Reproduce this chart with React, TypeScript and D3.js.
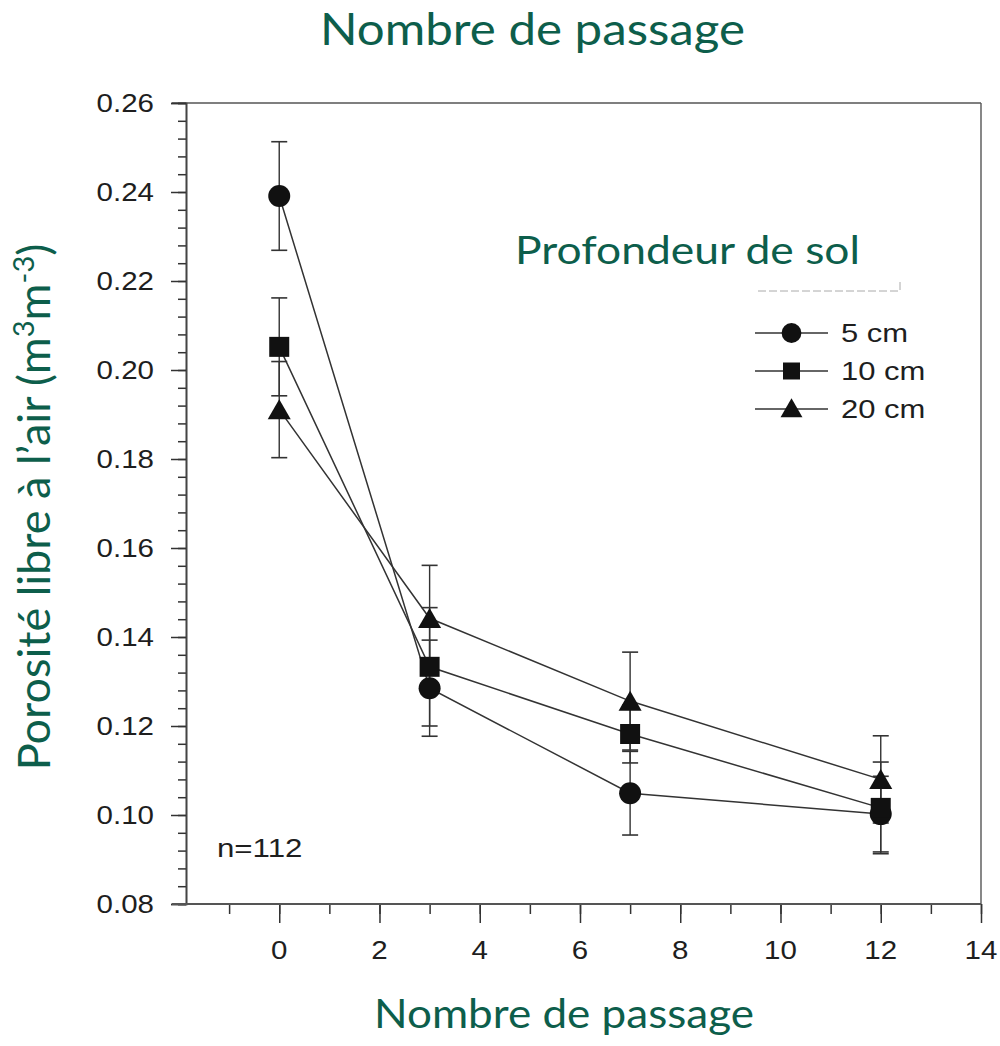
import React, { useEffect, useRef } from 'react';
import * as d3 from 'd3';

// data
const passes = [0, 3, 7, 12];
const depth5 = [0.2391, 0.1285, 0.1049, 0.1002];
const depth5Err = [0.0122, 0.0108, 0.0094, 0.0085];
const depth10 = [0.2052, 0.1333, 0.1182, 0.1016];
const depth10Err = [0.011, 0.0133, 0.0065, 0.0103];
const depth20 = [0.1911, 0.1442, 0.1256, 0.108];
const depth20Err = [0.0108, 0.0119, 0.011, 0.0098];
const seriesLabels = ['5 cm', '10 cm', '20 cm'];
const yTickLabels = ['0.08', '0.10', '0.12', '0.14', '0.16', '0.18', '0.20', '0.22', '0.24', '0.26'];
const xTickLabels = ['0', '2', '4', '6', '8', '10', '12', '14'];

const WIDTH = 1000;
const HEIGHT = 1046;
const GREEN = '#0d5e4b';
const INK = '#1e1e1e';
const TICK_FONT = '"Liberation Sans", Arial, sans-serif';
const TITLE_FONT = 'Lato, "Open Sans", sans-serif';

type Marker = 'circle' | 'square' | 'triangle';

const App: React.FC = () => {
  const svgRef = useRef<SVGSVGElement>(null);

  useEffect(() => {
    const svg = d3.select(svgRef.current);
    svg.selectAll('*').remove();

    const x = d3.scaleLinear().domain([-1.86, 14]).range([186, 981]);
    const y = d3.scaleLinear().domain([0.08, 0.26]).range([904, 103]);

    const g = svg.append('g');

    // frame: top and right borders
    g.append('line').attr('x1', 172).attr('x2', x(14)).attr('y1', y(0.26)).attr('y2', y(0.26))
      .attr('stroke', '#555').attr('stroke-width', 1.6);
    g.append('line').attr('x1', x(14)).attr('x2', x(14)).attr('y1', y(0.26)).attr('y2', y(0.08))
      .attr('stroke', '#555').attr('stroke-width', 1.4);

    // y axis: minor + major ticks
    const yMinor = d3.axisLeft(y)
      .tickValues(d3.range(0, 46).map(i => 0.08 + i * 0.004))
      .tickSize(8).tickFormat(() => '');
    const yMajor = d3.axisLeft(y)
      .tickValues(yTickLabels.map(Number))
      .tickSize(15).tickFormat(() => '');
    [yMinor, yMajor].forEach(ax => {
      const a = g.append('g').attr('transform', `translate(${x(-1.86)},0)`).call(ax);
      a.select('.domain').attr('stroke', '#444').attr('stroke-width', 1.6);
      a.selectAll('.tick line').attr('stroke', '#333').attr('stroke-width', 1.5);
    });

    // x axis: minor + major ticks
    const xMinor = d3.axisBottom(x).tickValues(d3.range(-1, 15)).tickSize(10).tickFormat(() => '');
    const xMajor = d3.axisBottom(x).tickValues(xTickLabels.map(Number)).tickSize(19).tickFormat(() => '');
    [xMinor, xMajor].forEach(ax => {
      const a = g.append('g').attr('transform', `translate(0,${y(0.08)})`).call(ax);
      a.select('.domain').remove();
      a.selectAll('.tick line').attr('stroke', '#333').attr('stroke-width', 1.5);
    });
    g.append('line').attr('x1', 172).attr('x2', x(14)).attr('y1', y(0.08)).attr('y2', y(0.08))
      .attr('stroke', '#555').attr('stroke-width', 2);

    // tick labels (the scanned figure is stretched horizontally)
    yTickLabels.forEach(t => {
      g.append('text')
        .attr('transform', `translate(154,${y(+t) + 9}) scale(1.18,1)`)
        .attr('text-anchor', 'end')
        .attr('font-family', TICK_FONT).attr('font-size', 25).attr('fill', INK)
        .text(t);
    });
    xTickLabels.forEach(t => {
      g.append('text')
        .attr('transform', `translate(${x(+t)},${959}) scale(1.18,1)`)
        .attr('text-anchor', 'middle')
        .attr('font-family', TICK_FONT).attr('font-size', 25).attr('fill', INK)
        .text(t);
    });

    g.append('text')
      .attr('transform', 'translate(217,857) scale(1.25,1)')
      .attr('font-family', TICK_FONT).attr('font-size', 25).attr('fill', INK)
      .text('n=112');

    const series: { vals: number[]; errs: number[]; marker: Marker }[] = [
      { vals: depth5, errs: depth5Err, marker: 'circle' },
      { vals: depth10, errs: depth10Err, marker: 'square' },
      { vals: depth20, errs: depth20Err, marker: 'triangle' },
    ];

    const symbolFor = (m: Marker) => {
      if (m === 'circle') return d3.symbol(d3.symbolCircle, Math.PI * 11 * 11)();
      if (m === 'square') return d3.symbol(d3.symbolSquare, 20 * 20)();
      return d3.symbol(d3.symbolTriangle, 230)();
    };

    const line = d3.line<number>()
      .x((_, i) => x(passes[i]))
      .y(d => y(d));

    // error bars
    series.forEach(s => {
      s.vals.forEach((v, i) => {
        const cx = x(passes[i]);
        const top = y(v + s.errs[i]);
        const bot = y(v - s.errs[i]);
        g.append('line').attr('x1', cx).attr('x2', cx).attr('y1', top).attr('y2', bot)
          .attr('stroke', '#333').attr('stroke-width', 1.4);
        [top, bot].forEach(yy => {
          g.append('line').attr('x1', cx - 8).attr('x2', cx + 8).attr('y1', yy).attr('y2', yy)
            .attr('stroke', '#333').attr('stroke-width', 1.6);
        });
      });
    });

    // lines + markers
    series.forEach(s => {
      g.append('path').attr('d', line(s.vals) || '')
        .attr('fill', 'none').attr('stroke', '#333').attr('stroke-width', 1.5);
    });
    series.forEach(s => {
      s.vals.forEach((v, i) => {
        const off = s.marker === 'triangle' ? 3 : 0;
        g.append('path').attr('d', symbolFor(s.marker))
          .attr('transform', `translate(${x(passes[i])},${y(v) + off})`)
          .attr('fill', '#111');
      });
    });

    // legend
    const legendX0 = 755;
    const legendX1 = 828;
    const legendY = [333, 371, 409];
    series.forEach((s, i) => {
      g.append('line').attr('x1', legendX0).attr('x2', legendX1)
        .attr('y1', legendY[i]).attr('y2', legendY[i])
        .attr('stroke', '#333').attr('stroke-width', 1.5);
      const off = s.marker === 'triangle' ? 2 : 0;
      const size = s.marker === 'square' ? 0.85 : s.marker === 'circle' ? 0.9 : 0.95;
      g.append('path').attr('d', symbolFor(s.marker))
        .attr('transform', `translate(${(legendX0 + legendX1) / 2},${legendY[i] + off}) scale(${size})`)
        .attr('fill', '#111');
      g.append('text')
        .attr('transform', `translate(841,${legendY[i] + 9}) scale(1.24,1)`)
        .attr('font-family', TICK_FONT).attr('font-size', 25).attr('fill', INK)
        .text(seriesLabels[i]);
    });

    // faint remnant of erased legend title
    g.append('path').attr('d', 'M758,291 H900 V279')
      .attr('fill', 'none').attr('stroke', '#aaa').attr('stroke-width', 1).attr('stroke-dasharray', '8 3');

    // green annotations
    g.append('text')
      .attr('x', 320).attr('y', 45)
      .attr('font-family', TITLE_FONT).attr('font-size', 44).attr('fill', GREEN)
      .attr('textLength', 425).attr('lengthAdjust', 'spacingAndGlyphs')
      .text('Nombre de passage');
    g.append('text')
      .attr('x', 374).attr('y', 1028)
      .attr('font-family', TITLE_FONT).attr('font-size', 40).attr('fill', GREEN)
      .attr('textLength', 380).attr('lengthAdjust', 'spacingAndGlyphs')
      .text('Nombre de passage');
    g.append('text')
      .attr('x', 515).attr('y', 264)
      .attr('font-family', TITLE_FONT).attr('font-size', 39).attr('fill', GREEN)
      .attr('textLength', 345).attr('lengthAdjust', 'spacingAndGlyphs')
      .text('Profondeur de sol');

    const yl = g.append('text')
      .attr('transform', 'translate(50,507) rotate(-90)')
      .attr('text-anchor', 'middle')
      .attr('font-family', TITLE_FONT).attr('font-size', 45).attr('fill', GREEN);
    yl.append('tspan').text('Porosité libre à l’air (m');
    yl.append('tspan').attr('dy', -16).attr('font-size', 29).text('3');
    yl.append('tspan').attr('dy', 16).text('m');
    yl.append('tspan').attr('dy', -16).attr('font-size', 29).text('-3');
    yl.append('tspan').attr('dy', 16).text(')');
  }, []);

  return (
    <svg
      ref={svgRef}
      width={WIDTH}
      height={HEIGHT}
      style={{ position: 'absolute', left: 0, top: 0, background: '#fff' }}
    />
  );
};

export default App;
